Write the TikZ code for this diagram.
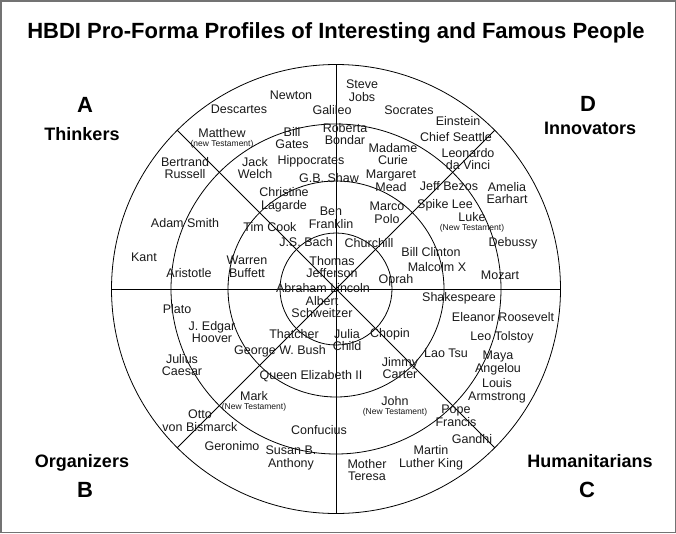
\documentclass[tikz,border=0pt]{standalone}
\usepackage{fontspec}
\setmainfont{Liberation Sans}
\usetikzlibrary{positioning}

\begin{document}
\begin{tikzpicture}[
    x=1pt, y=-1pt,
    person/.style={align=center, inner sep=0pt, text=black!90,
                   font=\fontsize{12.5}{12.7}\selectfont},
    testament/.style={inner sep=0pt, text=black!90, font=\fontsize{8.5}{9}\selectfont},
    quadname/.style={inner sep=0pt, font=\fontsize{18}{20}\selectfont\bfseries},
    quadletter/.style={inner sep=0pt, font=\fontsize{22}{24}\selectfont\bfseries},
    headline/.style={inner sep=0pt, font=\fontsize{22}{24}\selectfont\bfseries},
    ring/.style={line width=0.8pt},
  ]
  \useasboundingbox (0,0) rectangle (676,533);
  \draw[black!55, line width=1.5pt] (0.75,0.75) rectangle (675.25,532.25);

  % Title
  \node[headline] (heading) at (336,33) {HBDI Pro-Forma Profiles of Interesting and Famous People};

  % Rings and spokes
  \coordinate (hub) at (336,289);
  \foreach \r in {56,108,165,224.5}
    \draw[ring] (hub) circle[radius=\r pt];
  \foreach \a in {0,45,90,135}
    \draw[ring] ([shift={(\a:224.5pt)}]hub) -- ([shift={(\a+180:224.5pt)}]hub);

  % A - Thinkers
  \node[person] (newton) at (291,95) {Newton};
  \node[person] (descartes) at (239,109) {Descartes};
  \node[person] (galileo) at (332,110) {Galileo};
  \node[person] (matthew) at (222,133) {Matthew};
  \node[testament, below=2pt of matthew] (matthewnt) {(new Testament)};
  \node[person] (gates) at (292,138) {Bill\\Gates};
  \node[person] (bondar) at (345,134) {Roberta\\Bondar};
  \node[person] (russell) at (185,168) {Bertrand\\Russell};
  \node[person] (welch) at (255,168) {Jack\\Welch};
  \node[person] (hippocrates) at (311,161) {Hippocrates};
  \node[person] (shaw) at (329,178) {G.B. Shaw};
  \node[person] (lagarde) at (284,200) {Christine\\Lagarde};
  \node[person] (franklin) at (331,218) {Ben\\Franklin};
  \node[person] (smith) at (185,223) {Adam Smith};
  \node[person] (cook) at (270,227) {Tim Cook};
  \node[person] (bach) at (306,242) {J.S. Bach};
  \node[person] (kant) at (144,257) {Kant};
  \node[person] (aristotle) at (189,273) {Aristotle};
  \node[person] (buffett) at (247,267) {Warren\\Buffett};
  \node[person] (jefferson) at (332,267) {Thomas\\Jefferson};
  \node[person] (lincoln) at (323,288) {Abraham Lincoln};

  % D - Innovators
  \node[person] (jobs) at (362,91) {Steve\\Jobs};
  \node[person] (socrates) at (409,110) {Socrates};
  \node[person] (einstein) at (458,121) {Einstein};
  \node[person] (seattle) at (456,137) {Chief Seattle};
  \node[person] (curie) at (393,154) {Madame\\Curie};
  \node[person] (davinci) at (468,159) {Leonardo\\da Vinci};
  \node[person] (mead) at (391,181) {Margaret\\Mead};
  \node[person] (bezos) at (449,186) {Jeff Bezos};
  \node[person] (earhart) at (507,193) {Amelia\\Earhart};
  \node[person] (polo) at (387,213) {Marco\\Polo};
  \node[person] (lee) at (445,205) {Spike Lee};
  \node[person] (luke) at (472,217) {Luke};
  \node[testament, below=2pt of luke] (lukent) {(New Testament)};
  \node[person] (debussy) at (513,243) {Debussy};
  \node[person] (churchill) at (369,243) {Churchill};
  \node[person] (clinton) at (431,252) {Bill Clinton};
  \node[person] (malcolm) at (437,267) {Malcolm X};
  \node[person] (mozart) at (500,275) {Mozart};
  \node[person] (oprah) at (396,280) {Oprah};

  % C - Humanitarians
  \node[person] (shakespeare) at (459,298) {Shakespeare};
  \node[person] (roosevelt) at (503,317) {Eleanor Roosevelt};
  \node[person] (tolstoy) at (502,337) {Leo Tolstoy};
  \node[person] (chopin) at (390,334) {Chopin};
  \node[person] (child) at (347,340) {Julia\\Child};
  \node[person] (laotsu) at (446,353) {Lao Tsu};
  \node[person] (carter) at (400,368) {Jimmy\\Carter};
  \node[person] (angelou) at (498,363) {Maya\\Angelou};
  \node[person] (armstrong) at (497,391) {Louis\\Armstrong};
  \node[person] (john) at (395,401) {John};
  \node[testament, below=2pt of john] (johnnt) {(New Testament)};
  \node[person] (pope) at (456,416) {Pope\\Francis};
  \node[person] (gandhi) at (472,439) {Gandhi};
  \node[person] (king) at (431,458) {Martin\\Luther King};
  \node[person] (teresa) at (367,470) {Mother\\Teresa};

  % B - Organizers
  \node[person] (schweitzer) at (322,307) {Albert\\Schweitzer};
  \node[person] (thatcher) at (294,334) {Thatcher};
  \node[person] (bush) at (280,351) {George W. Bush};
  \node[person] (plato) at (177,309) {Plato};
  \node[person] (hoover) at (212,332) {J. Edgar\\Hoover};
  \node[person] (caesar) at (182,365) {Julius\\Caesar};
  \node[person] (queen) at (311,376) {Queen Elizabeth II};
  \node[person] (mark) at (254,396) {Mark};
  \node[testament, below=2pt of mark] (marknt) {(New Testament)};
  \node[person] (bismarck) at (200,421) {Otto\\von Bismarck};
  \node[person] (confucius) at (319,430) {Confucius};
  \node[person] (geronimo) at (232,446) {Geronimo};
  \node[person] (anthony) at (291,458) {Susan B.\\Anthony};

  % Quadrant labels
  \node[quadletter] (qa) at (85,105) {A};
  \node[quadname] (thinkers) at (82,134) {Thinkers};
  \node[quadletter] (qd) at (588,104) {D};
  \node[quadname] (innovators) at (590,128) {Innovators};
  \node[quadname] (organizers) at (82,463) {Organizers};
  \node[quadletter] (qb) at (85,490) {B};
  \node[quadname] (humanitarians) at (590,461) {Humanitarians};
  \node[quadletter] (qc) at (587,490) {C};
\end{tikzpicture}
\end{document}
